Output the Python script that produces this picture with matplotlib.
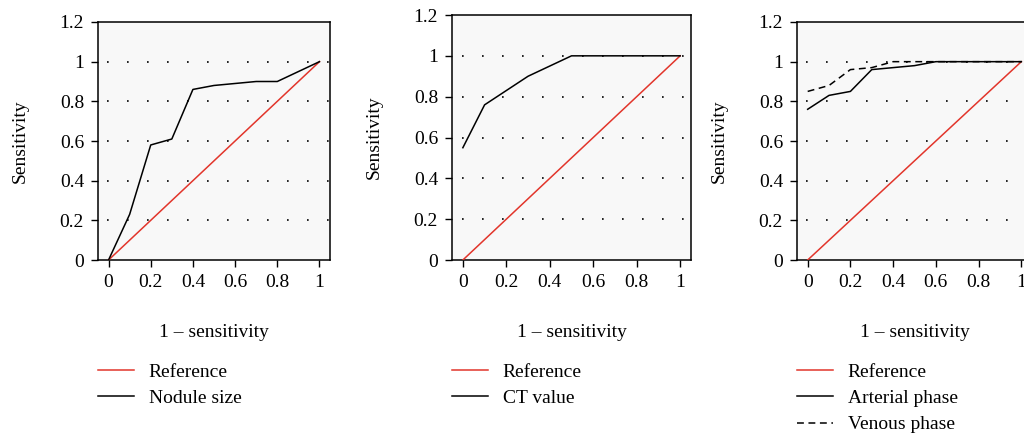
import matplotlib
matplotlib.use("Agg")
import matplotlib.pyplot as plt

plt.rcParams['font.family'] = ['Liberation Serif', 'DejaVu Serif']

# ROC data
ref_x = [0, 1]
ref_y = [0, 1]

nod_x = [0, 0.1, 0.2, 0.3, 0.4, 0.5, 0.7, 0.8, 1.0]
nod_y = [0, 0.23, 0.58, 0.61, 0.86, 0.88, 0.90, 0.90, 1.0]

ct_x = [0, 0.1, 0.3, 0.5, 1.0]
ct_y = [0.55, 0.76, 0.90, 1.0, 1.0]

art_x = [0, 0.1, 0.2, 0.3, 0.5, 0.6, 1.0]
art_y = [0.76, 0.83, 0.85, 0.96, 0.98, 1.0, 1.0]

ven_x = [0, 0.1, 0.2, 0.3, 0.4, 1.0]
ven_y = [0.85, 0.88, 0.96, 0.97, 1.0, 1.0]

yticks = [0, 0.2, 0.4, 0.6, 0.8, 1.0, 1.2]
xticks = [0, 0.2, 0.4, 0.6, 0.8, 1.0]
tick_fmt = lambda v: "0" if v == 0 else ("1" if v == 1 else "%g" % v)

red = '#e2352b'

fig = plt.figure(figsize=(10.24, 4.4), dpi=100)

# [left, bottom, width, height]
rects = [
    [98 / 1024, 1 - 260 / 440, 232 / 1024, 238 / 440],
    [452 / 1024, 1 - 260 / 440, 239 / 1024, 245 / 440],
    [797 / 1024, 1 - 260 / 440, 235 / 1024, 238 / 440],
]

series = [
    [(nod_x, nod_y, '-', 'Nodule size')],
    [(ct_x, ct_y, '-', 'CT value')],
    [(art_x, art_y, '-', 'Arterial phase'), (ven_x, ven_y, (0, (4.5, 3)), 'Venous phase')],
]

for rect, curves in zip(rects, series):
    ax = fig.add_axes(rect)
    ax.set_facecolor('#f8f8f8')
    for v in [0.2, 0.4, 0.6, 0.8, 1.0]:
        ax.axhline(v, xmin=0.04, color='black', lw=1.2, ls=(0, (1, 11)), zorder=1)
    ax.plot(ref_x, ref_y, color=red, lw=1.1, label='Reference', zorder=3)
    for xs, ys, ls, lab in curves:
        ax.plot(xs, ys, color='black', lw=1.1, ls=ls, label=lab, zorder=4)
    ax.set_xlim(-0.05, 1.05)
    ax.set_ylim(0, 1.2)
    ax.set_xticks(xticks)
    ax.set_xticklabels([tick_fmt(v) for v in xticks])
    ax.set_yticks(yticks)
    ax.set_yticklabels([tick_fmt(v) for v in yticks])
    ax.tick_params(direction='out', length=5, width=1, labelsize=14, pad=5)
    for s in ax.spines.values():
        s.set_linewidth(1.1)
    ax.set_xlabel('1 – sensitivity', fontsize=14, labelpad=24)
    ax.set_ylabel('Sensitivity', fontsize=14, labelpad=22)
    ax.legend(loc='upper left', bbox_to_anchor=(rect[0], 1 - 363 / 440),
              bbox_transform=fig.transFigure, frameon=False,
              fontsize=14, handlelength=1.85, handletextpad=0.75,
              labelspacing=0.45, borderpad=0, borderaxespad=0)

fig.savefig('out.png', dpi=100)
